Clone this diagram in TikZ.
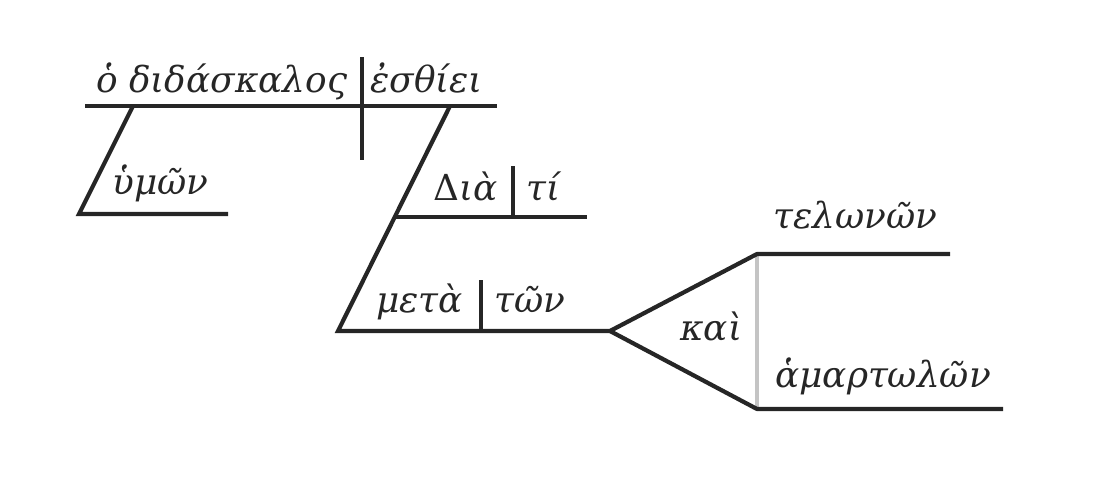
\documentclass[tikz,border=0pt]{standalone}
\usepackage{fontspec}
\setmainfont{DejaVu Serif}
\newfontfamily\grk{DejaVu Serif}
\definecolor{ink}{HTML}{262626}
\definecolor{faint}{HTML}{C4C4C4}
\tikzset{
  rule/.style={draw=ink, line width=3pt, line cap=butt},
  faintrule/.style={draw=faint, line width=2.2pt},
  word/.style={inner sep=0pt, anchor=base west, text=ink, font=\grk\itshape\fontsize{25.5}{30}\selectfont},
}
\begin{document}
\begin{tikzpicture}[x=0.025cm, y=-0.025cm]
\useasboundingbox (0,0) rectangle (1100,480);
% coordinates
\coordinate (m1) at (85,106);
\coordinate (m2) at (497,106);
\coordinate (v1) at (362,57);
\coordinate (v2) at (362,160);
\coordinate (s1) at (133,106);
\coordinate (s2) at (79,214);
\coordinate (s3) at (228,214);
\coordinate (a1) at (450,106);
\coordinate (a2) at (395,217);
\coordinate (a3) at (338,331);
\coordinate (d2) at (587,217);
\coordinate (dv1) at (513,166);
\coordinate (dv2) at (513,217);
\coordinate (p2) at (610,331);
\coordinate (pv1) at (481,280);
\coordinate (pv2) at (481,331);
\coordinate (c1) at (757,254);
\coordinate (c2) at (950,254);
\coordinate (c3) at (757,409);
\coordinate (c4) at (1003,409);
% words
\node[word] (w1) at (96,92) {ὁ διδάσκαλος};
\node[word] (w2) at (370,92) {ἐσθίει};
\node[word] (w3) at (112,194) {ὑμῶν};
\node[word] (w4) at (433,200) {{\upshape Δ}ιὰ};
\node[word] (w5) at (526,200) {τί};
\node[word] (w6) at (376,312) {μετὰ};
\node[word] (w7) at (494,312) {τῶν};
\node[word] (w8) at (680,340) {καὶ};
\node[word] (w9) at (773,228) {τελωνῶν};
\node[word] (w10) at (775,387) {ἁμαρτωλῶν};
% lines
\draw[faintrule] (c1) -- (c3);
\draw[rule] (m1) -- (m2);
\draw[rule] (v1) -- (v2);
\draw[rule, line join=miter] (s1) -- (s2) -- (s3);
\draw[rule, line join=miter] (a1) -- (a3) -- (p2);
\draw[rule] (a2) -- (d2);
\draw[rule] (dv1) -- (dv2);
\draw[rule] (pv1) -- (pv2);
\draw[rule, line join=round] (c2) -- (c1) -- (p2) -- (c3) -- (c4);
\end{tikzpicture}
\end{document}
